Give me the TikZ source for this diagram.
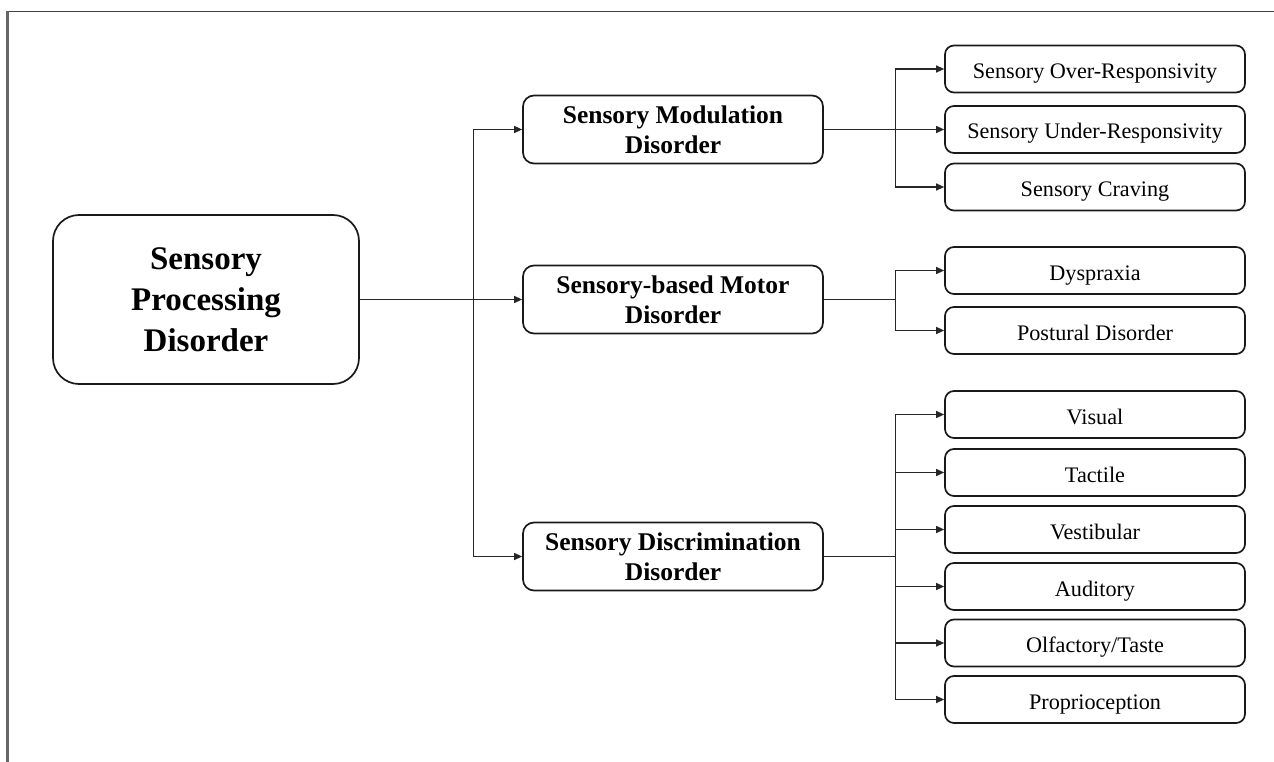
\documentclass[tikz,border=0pt]{standalone}
\usepackage{fontspec}
\setmainfont{Liberation Serif}
\usetikzlibrary{arrows.meta,calc}
\tikzset{
  box/.style={draw=black!90, line width=1.7pt, rounded corners=9pt, inner sep=0pt},
  spdbox/.style={box, align=center, rounded corners=26pt, minimum width=306pt, minimum height=169pt,
     font=\bfseries\fontsize{33}{41}\selectfont},
  midbox/.style={box, align=center, rounded corners=11pt, minimum width=300pt, minimum height=68pt,
     font=\bfseries\fontsize{25.5}{30}\selectfont},
  leafbox/.style={box, minimum width=300pt, minimum height=47pt, text height=20pt, text depth=1pt,
     font=\fontsize{22.2}{26}\selectfont},
  conn/.style={draw=black!85, line width=1.2pt},
  arr/.style={conn, -{Triangle[length=8pt,width=7pt]}},
}
\begin{document}
\begin{tikzpicture}[x=1pt,y=-1pt]
\useasboundingbox (0,0) rectangle (1274,762);
% frame
\draw[black!75, line width=1.1pt] (7,11.5) -- (1274,11.5);
\draw[black!60, line width=2.2pt] (7.5,11) -- (7.5,762);

\node[spdbox] (spd) at (206,299.5) {Sensory\\Processing\\Disorder};

\node[midbox] (smd) at (673,129.5) {Sensory Modulation\\Disorder};
\node[midbox] (sbmd) at (673,299.5) {Sensory-based Motor\\Disorder};
\node[midbox] (sdd) at (673,556.5) {Sensory Discrimination\\Disorder};

\node[leafbox] (over) at (1095,69) {Sensory Over-Responsivity};
\node[leafbox] (under) at (1095,129.5) {Sensory Under-Responsivity};
\node[leafbox] (crav) at (1095,187) {Sensory Craving};

\node[leafbox] (dysp) at (1095,270.5) {Dyspraxia};
\node[leafbox] (post) at (1095,330.5) {Postural Disorder};

\node[leafbox] (vis) at (1095,414.5) {Visual};
\node[leafbox] (tac) at (1095,472.5) {Tactile};
\node[leafbox] (ves) at (1095,529.5) {Vestibular};
\node[leafbox] (aud) at (1095,586.5) {Auditory};
\node[leafbox] (olf) at (1095,643) {Olfactory/Taste};
\node[leafbox] (prop) at (1095,699.5) {Proprioception};

% left level
\draw[arr] (spd.east) -- (sbmd.west);
\coordinate (lt) at ($(smd.west)+(-49,0)$);
\coordinate (lb) at ($(sdd.west)+(-49,0)$);
\draw[conn] (lt) -- (lb);
\draw[arr] (lt) -- (smd.west);
\draw[arr] (lb) -- (sdd.west);

% modulation branch
\coordinate (m1) at ($(over.west)+(-49,0)$);
\coordinate (m3) at ($(crav.west)+(-49,0)$);
\draw[conn] (m1) -- (m3);
\draw[arr] (smd.east) -- (under.west);
\draw[arr] (m1) -- (over.west);
\draw[arr] (m3) -- (crav.west);

% motor branch
\coordinate (b1) at ($(dysp.west)+(-49,0)$);
\coordinate (b2) at ($(post.west)+(-49,0)$);
\coordinate (bj) at (b1 |- sbmd.east);
\draw[conn] (sbmd.east) -- (bj);
\draw[conn] (b1) -- (b2);
\draw[arr] (b1) -- (dysp.west);
\draw[arr] (b2) -- (post.west);

% discrimination branch
\coordinate (d1) at ($(vis.west)+(-49,0)$);
\coordinate (d6) at ($(prop.west)+(-49,0)$);
\coordinate (dj) at (d1 |- sdd.east);
\draw[conn] (sdd.east) -- (dj);
\draw[conn] (d1) -- (d6);
\foreach \n in {vis,tac,ves,aud,olf,prop}
  \draw[arr] (d1 |- \n.west) -- (\n.west);
\end{tikzpicture}
\end{document}
